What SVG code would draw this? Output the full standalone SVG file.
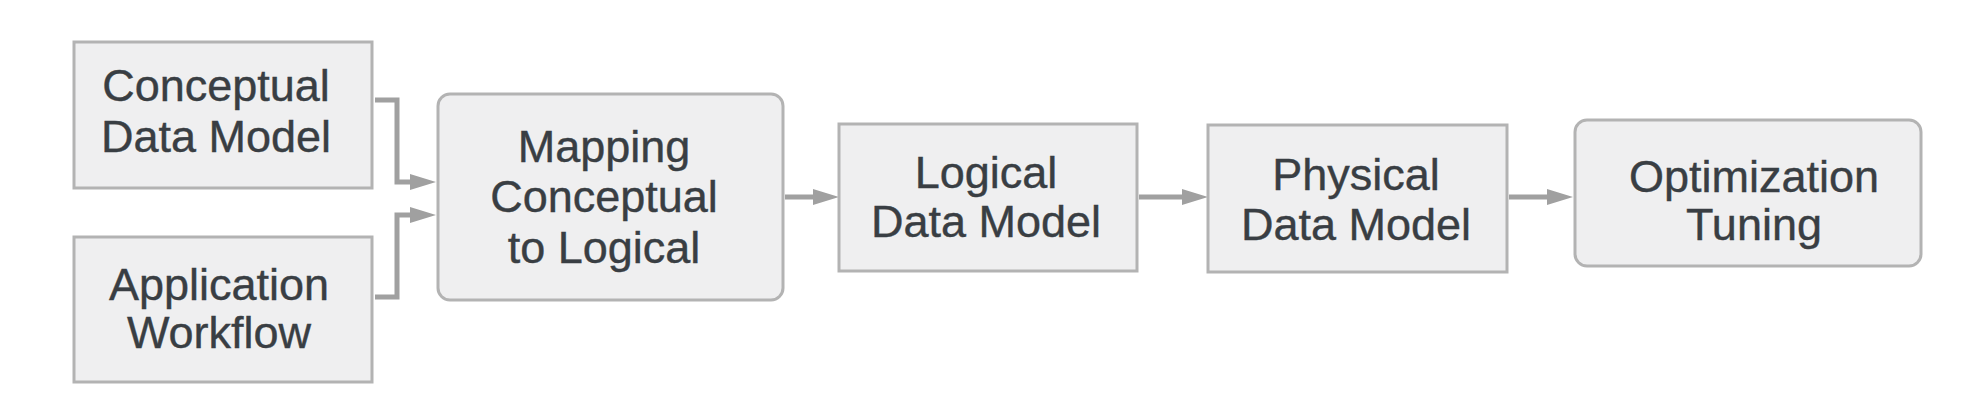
<svg xmlns="http://www.w3.org/2000/svg" width="1979" height="417" viewBox="0 0 1979 417">
<style>
.box{fill:#efeff0;stroke:#b3b3b3;stroke-width:3}
.lbl{font-family:"Liberation Sans",Arial,Helvetica,sans-serif;font-size:45px;fill:#393e43;stroke:#393e43;stroke-width:0.4;text-anchor:middle}
.con{fill:none;stroke:#a0a0a0;stroke-width:5;marker-end:url(#ah)}
</style>
<defs>
<marker id="ah" viewBox="0 0 26 16" refX="6" refY="8" markerWidth="26" markerHeight="16" markerUnits="userSpaceOnUse" orient="auto">
<path d="M0,0 L26,8 L0,16 z" fill="#a0a0a0"/>
</marker>
</defs>
<rect width="1979" height="417" fill="#ffffff"/>
<g id="connectors">
<path class="con" d="M375,100 H397 V182 H416"/>
<path class="con" d="M375,297 H397 V215 H416"/>
<path class="con" d="M785,197 H819"/>
<path class="con" d="M1139,197 H1188"/>
<path class="con" d="M1509,197 H1553"/>
</g>
<g id="conceptual">
<rect class="box" x="74" y="42" width="298" height="146"/>
<text class="lbl" x="216" y="101">Conceptual</text>
<text class="lbl" x="216" y="152">Data Model</text>
</g>
<g id="workflow">
<rect class="box" x="74" y="237" width="298" height="145"/>
<text class="lbl" x="219" y="300">Application</text>
<text class="lbl" x="219" y="348">Workflow</text>
</g>
<g id="mapping">
<rect class="box" x="438" y="94" width="345" height="206" rx="12"/>
<text class="lbl" x="604" y="162">Mapping</text>
<text class="lbl" x="604" y="212">Conceptual</text>
<text class="lbl" x="604" y="263">to Logical</text>
</g>
<g id="logical">
<rect class="box" x="839" y="124" width="298" height="147"/>
<text class="lbl" x="986" y="188">Logical</text>
<text class="lbl" x="986" y="237">Data Model</text>
</g>
<g id="physical">
<rect class="box" x="1208" y="125" width="299" height="147"/>
<text class="lbl" x="1356" y="190">Physical</text>
<text class="lbl" x="1356" y="240">Data Model</text>
</g>
<g id="optimization">
<rect class="box" x="1575" y="120" width="346" height="146" rx="12"/>
<text class="lbl" x="1754" y="192">Optimization</text>
<text class="lbl" x="1754" y="240">Tuning</text>
</g>
</svg>
